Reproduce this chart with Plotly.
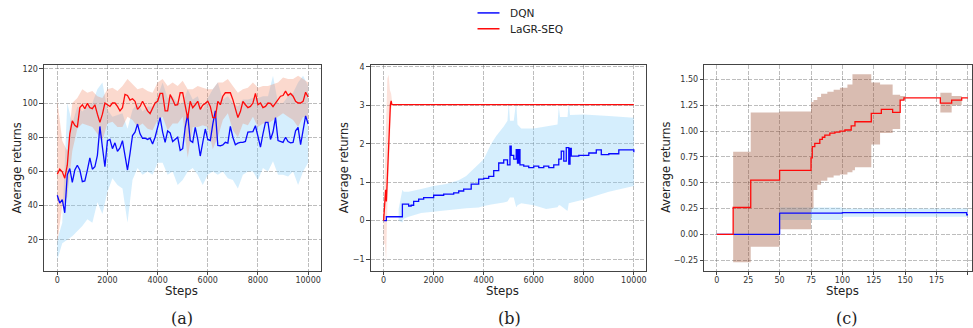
import plotly.graph_objects as go

# ---------------- data: panel (a) ----------------
steps_a = list(range(0, 10001, 100))
red_a = [58.3, 61.3, 59.8, 56, 63.6, 82, 89.6, 87, 85.8, 97.3,
         99, 96.7, 99.8, 97.3, 96.7, 99, 93.5, 88.7, 93.5, 100,
         99, 98, 100, 100, 98, 95.4, 97.3, 105, 104.4, 101.7,
         102.5, 101, 96.3, 98, 101, 98, 95.4, 93.8, 97.3, 100,
         101, 105.6, 105.6, 95.4, 95.4, 105, 102, 98.7, 99, 106,
         106, 97.3, 91, 101, 97.3, 99, 101, 96.3, 98.7, 99.8,
         101, 98, 91.5, 91.5, 101, 99, 104, 106,
         106, 106, 102, 96, 91.5, 95, 101, 99, 97.3, 98,
         100, 105.6, 99, 100, 97.3, 98, 100, 99.8, 97.9, 100,
         102, 104, 104.4, 107, 104.4, 105.6, 104, 101, 100, 100,
         101, 106.3, 103.5]
blue_a = [46, 41.5, 43.5, 35.8, 58, 61.7, 53.6, 60.8, 63.6, 60.8,
          54, 54.4, 60.8, 67.9, 61.3, 62.7, 69.4, 86.3, 74.2, 62.7,
          78, 78.7, 73.3, 76.7, 71.7, 73.7, 78, 69.4, 60.8, 70.4,
          81, 83, 87.7, 82, 79.4, 79.4, 78.7, 79.4, 76, 80,
          85.8, 91.5, 83, 77, 83.7, 82.5, 77.5, 79, 80, 72.3,
          73.3, 85.8, 93.5, 78, 77, 85.8, 78.7, 69, 76, 84.8,
          78.7, 78, 87.7, 95.4,
          75.2, 75, 75.5, 77, 76.5, 86.3, 80, 75.6, 76.5, 77,
          77, 77.5, 83, 83, 83.3, 86.7, 80, 74.2, 82, 88.7,
          88.7, 78.7, 83, 91.5, 78, 77.5, 77, 80, 77.5, 76.7,
          77, 83.7, 85.8, 75.6, 85, 92.5, 87.7]

band_steps_a = list(range(0, 10001, 200))
red_a_upper = [102, 78, 72, 100, 103, 108, 106, 107, 104, 103,
               108, 109, 107, 110, 114, 111, 108, 109, 107, 106,
               112, 114, 110, 112, 110, 113, 108, 108, 110, 109,
               108, 108, 112, 112, 114, 110, 106, 108, 109, 112,
               109, 110, 110, 111, 112, 115, 114, 114, 116, 114, 112]
red_a_lower = [18, 40, 45, 72, 85, 88, 87, 86, 82, 78,
               88, 89, 86, 86, 92, 90, 86, 88, 85, 84,
               90, 92, 84, 88, 88, 92, 68, 86, 86, 87,
               86, 73, 80, 90, 94, 84, 80, 88, 87, 92,
               86, 88, 88, 90, 92, 94, 92, 90, 86, 92, 90]
blue_a_upper = [20, 30, 100, 88, 98, 95, 98, 100, 108, 112,
                96, 92, 93, 94, 85, 96, 100, 95, 98, 98,
                104, 112, 103, 104, 100, 100, 108, 102, 104, 96,
                103, 108, 112, 102, 104, 100, 98, 102, 102, 103,
                103, 104, 104, 116, 100, 100, 104, 106, 112, 116, 110]
blue_a_lower = [8, 18, 20, 22, 25, 28, 32, 30, 42, 35,
                48, 56, 52, 50, 30, 55, 62, 58, 60, 58,
                65, 65, 58, 60, 52, 55, 60, 62, 58, 52,
                58, 60, 58, 60, 56, 55, 50, 58, 60, 60,
                55, 62, 60, 66, 58, 58, 57, 60, 52, 60, 65]

# ---------------- data: panel (b) ----------------
red_b_steps = [0, 40, 80, 110, 150, 180, 200, 240, 270, 300, 330, 10000]
red_b = [0, 0.3, 0.8, 0.5, 1.1, 1.8, 1.9, 2.85, 3.02, 3.12, 3.02, 3.02]
red_b_band_steps = [0, 50, 100, 150, 200, 250, 300, 350]
red_b_upper = [0.2, 1.5, 2.5, 3.7, 3.8, 3.4, 3.3, 3.02]
red_b_lower = [-0.6, -0.6, -1.05, 0.4, 1.2, 2.2, 2.9, 3.02]

blue_b_steps = [0, 100, 110, 650, 750, 1000, 1100, 1200, 1400, 1600, 1800, 2000,
                2200, 2400, 2600, 2800, 3000, 3200, 3500, 3800, 4000, 4200,
                4400, 4600, 4800, 4950, 5050, 5100, 5200, 5300, 5350, 5400,
                5450, 5600, 5800, 6000, 6200, 6400, 6600, 6800, 7000, 7100,
                7200, 7300, 7400, 7450, 7500, 7800, 8000, 8200, 8500, 8700,
                9000, 9400, 10000]
blue_b = [0, 0, 0.1, 0.1, 0.43, 0.38, 0.4, 0.5, 0.56, 0.6, 0.6, 0.66,
          0.66, 0.69, 0.69, 0.72, 0.77, 0.82, 0.95, 1.08, 1.1, 1.15,
          1.3, 1.5, 1.58, 1.45, 1.94, 1.7, 1.6, 1.85, 1.5, 1.85,
          1.45, 1.42, 1.38, 1.42, 1.38, 1.42, 1.38, 1.45, 1.6, 1.81,
          1.55, 1.9, 1.47, 1.88, 1.68, 1.7, 1.7, 1.76, 1.84, 1.72,
          1.74, 1.84, 1.78]
blue_b_band_steps = [600, 750, 800, 1000, 1500, 2000, 2500, 3000, 3300, 3800,
                     4000, 4300, 4500, 4800, 4950, 5000, 5050, 5200, 5300, 5350,
                     5500, 6000, 6500, 6950, 7000, 7050, 7350, 7400, 7450, 8000,
                     9000, 10000]
blue_b_upper = [0.3, 0.8, 0.75, 0.75, 0.82, 0.9, 0.95, 1.05, 1.16, 1.47,
                1.6, 2.0, 2.2, 2.45, 2.6, 3.1, 2.6, 2.6, 3.1, 2.5,
                2.4, 2.4, 2.45, 2.5, 2.98, 2.7, 2.7, 3.1, 2.75, 2.76,
                2.72, 2.68]
blue_b_lower = [0.0, -0.05, 0.05, 0.1, 0.2, 0.25, 0.28, 0.3, 0.32, 0.34,
                0.38, 0.42, 0.45, 0.47, 0.5, 0.55, 0.6, 0.6, 0.35, 0.4,
                0.45, 0.4, 0.3, 0.35, 0.4, 0.4, 0.25, 0.45, 0.45, 0.55,
                0.75, 0.9]

# ---------------- data: panel (c) (step functions) ----------------
red_c_steps = [0, 13, 27, 50, 75, 76, 78, 82, 84, 86, 90, 94, 98, 102, 107, 110,
               123, 131, 140, 146, 149, 178, 187, 195, 200]
red_c = [0, 0.26, 0.525, 0.62, 0.74, 0.85, 0.88, 0.92, 0.94, 0.96, 0.98, 0.99,
         1.0, 1.01, 1.05, 1.09, 1.17, 1.21, 1.18, 1.3, 1.32, 1.27, 1.3, 1.32, 1.32]
red_c_band_steps = [0, 13, 27, 50, 75, 77, 80, 83, 88, 93, 98, 104, 108, 110, 123,
                    130, 140, 146, 150, 178, 187, 195, 200]
red_c_upper = [0, 0.8, 1.18, 1.19, 1.28, 1.3, 1.33, 1.36, 1.38, 1.4, 1.42, 1.45,
               1.55, 1.55, 1.47, 1.45, 1.35, 1.34, 1.32, 1.37, 1.34, 1.32, 1.32]
red_c_lower = [0, -0.27, -0.12, 0.05, 0.25, 0.43, 0.48, 0.52, 0.55, 0.57, 0.58,
               0.6, 0.62, 0.65, 0.87, 0.98, 1.02, 1.3, 1.32, 1.18, 1.25, 1.32, 1.32]
blue_c_steps = [0, 50, 100, 199, 200]
blue_c = [0, 0.205, 0.21, 0.19, 0.19]
blue_c_band_steps = [0, 50, 100, 200]
blue_c_upper = [0, 0.26, 0.25, 0.25]
blue_c_lower = [0, 0.14, 0.17, 0.17]

legend_names = ["DQN", "LaGR-SEQ"]

# ---------------- styles ----------------
BLUE = "#0a0aff"
RED = "#ff0a0a"
BLUE_FILL = "rgba(135,206,250,0.35)"
RED_FILL_A = "rgba(240,120,80,0.28)"
RED_FILL_B = "rgba(245,140,110,0.25)"
RED_FILL_C = "rgba(150,70,40,0.36)"

fig = go.Figure()


def band(xs, lo, hi, color, xa, ya, step=False):
    if step:
        px, pu, pl = [], [], []
        for i in range(len(xs)):
            if i > 0:
                px.append(xs[i]); pu.append(hi[i - 1]); pl.append(lo[i - 1])
            px.append(xs[i]); pu.append(hi[i]); pl.append(lo[i])
    else:
        px, pu, pl = list(xs), list(hi), list(lo)
    fig.add_trace(go.Scatter(x=px + px[::-1], y=pu + pl[::-1], fill="toself",
                             fillcolor=color, line=dict(width=0), mode="lines",
                             hoverinfo="skip", showlegend=False,
                             xaxis=xa, yaxis=ya))


def line(xs, ys, color, name, xa, ya, shape="linear"):
    fig.add_trace(go.Scatter(x=xs, y=ys, mode="lines", name=name,
                             line=dict(color=color, width=1.3, shape=shape),
                             showlegend=False, xaxis=xa, yaxis=ya))


# panel a
band(band_steps_a, blue_a_lower, blue_a_upper, BLUE_FILL, "x", "y")
band(band_steps_a, red_a_lower, red_a_upper, RED_FILL_A, "x", "y")
line(steps_a, blue_a, BLUE, legend_names[0], "x", "y")
line(steps_a, red_a, RED, legend_names[1], "x", "y")
# panel b
band(blue_b_band_steps, blue_b_lower, blue_b_upper, BLUE_FILL, "x2", "y2")
band(red_b_band_steps, red_b_lower, red_b_upper, RED_FILL_B, "x2", "y2")
line(blue_b_steps, blue_b, BLUE, legend_names[0], "x2", "y2", "hv")
line(red_b_steps, red_b, RED, legend_names[1], "x2", "y2")
# panel c
band(blue_c_band_steps, blue_c_lower, blue_c_upper, BLUE_FILL, "x3", "y3", step=True)
band(red_c_band_steps, red_c_lower, red_c_upper, RED_FILL_C, "x3", "y3", step=True)
line(blue_c_steps, blue_c, BLUE, legend_names[0], "x3", "y3", "hv")
line(red_c_steps, red_c, RED, legend_names[1], "x3", "y3", "hv")

W, H = 973, 328
TICKFONT = dict(family="DejaVu Sans", size=8, color="#333")
GRID = dict(showgrid=True, gridcolor="rgba(90,90,90,0.4)", gridwidth=1,
            griddash="4px,1.5px", zeroline=False, showline=True,
            linecolor="#444", linewidth=1, mirror=True, ticks="outside",
            ticklen=3.5, tickcolor="#444", tickfont=TICKFONT)
XGRID = dict(GRID, ticklabelstandoff=-2)
XT = [0, 2000, 4000, 6000, 8000, 10000]
XTT = [str(v) for v in XT]

ydom = [(328 - 270) / H, (328 - 63) / H]
fig.update_layout(
    width=W, height=H, margin=dict(l=0, r=0, t=0, b=0),
    paper_bgcolor="white", plot_bgcolor="white", showlegend=False,
    xaxis=dict(domain=[44 / W, 321 / W], range=[-530, 10500], anchor="y",
               tickvals=XT, ticktext=XTT, **XGRID),
    yaxis=dict(domain=ydom, range=[2, 122], anchor="x",
               tickvals=[20, 40, 60, 80, 100, 120], **GRID),
    xaxis2=dict(domain=[371 / W, 647 / W], range=[-520, 10500], anchor="y2",
                tickvals=XT, ticktext=XTT, **XGRID),
    yaxis2=dict(domain=ydom, range=[-1.3, 4.04], anchor="x2",
                tickvals=[-1, 0, 1, 2, 3, 4],
                ticktext=["\u22121", "0", "1", "2", "3", "4"], **GRID),
    xaxis3=dict(domain=[705 / W, 1.0], range=[-10, 203.2], anchor="y3",
                tickvals=[0, 25, 50, 75, 100, 125, 150, 175, 200], **XGRID),
    yaxis3=dict(domain=ydom, range=[-0.35, 1.635], anchor="x3",
                tickvals=[-0.25, 0, 0.25, 0.5, 0.75, 1.0, 1.25, 1.5],
                ticktext=["\u22120.25", "0.00", "0.25", "0.50", "0.75", "1.00",
                          "1.25", "1.50"], **GRID),
)

# legend (drawn as line samples + labels)
shapes = []
ann = []
for name, col, ly in [(legend_names[0], BLUE, 10), (legend_names[1], RED, 26)]:
    shapes.append(dict(type="line", xref="paper", yref="paper",
                       x0=478 / W, x1=500 / W, y0=(H - ly) / H, y1=(H - ly) / H,
                       line=dict(color=col, width=1.5)))
    ann.append(dict(text=name, x=509 / W, y=(H - ly) / H, xref="paper",
                    yref="paper", xanchor="left", yanchor="middle",
                    showarrow=False,
                    font=dict(family="DejaVu Sans", size=10.6, color="#222")))

for cx in [17, 345, 667]:
    ann.append(dict(text="Average returns", x=cx / W, y=(H - 166) / H,
                    xref="paper", yref="paper", showarrow=False, textangle=-90,
                    xanchor="center", yanchor="middle",
                    font=dict(family="DejaVu Sans", size=11.4, color="#222")))
for cx in [182, 503, 843]:
    ann.append(dict(text="Steps", x=cx / W, y=(H - 291) / H, xref="paper",
                    yref="paper", showarrow=False,
                    xanchor="center", yanchor="middle",
                    font=dict(family="DejaVu Sans", size=11.8, color="#222")))
for cx, lab in [(182, "(a)"), (510, "(b)"), (847, "(c)")]:
    ann.append(dict(text=lab, x=cx / W, y=(H - 318) / H, xref="paper",
                    yref="paper", showarrow=False,
                    xanchor="center", yanchor="middle",
                    font=dict(family="DejaVu Serif", size=16, color="#222")))
fig.update_layout(annotations=ann, shapes=shapes)

fig.write_html("out.html", config={"displayModeBar": False},
               post_script="document.body.style.margin='0';"
                           "document.body.style.overflow='hidden';")
